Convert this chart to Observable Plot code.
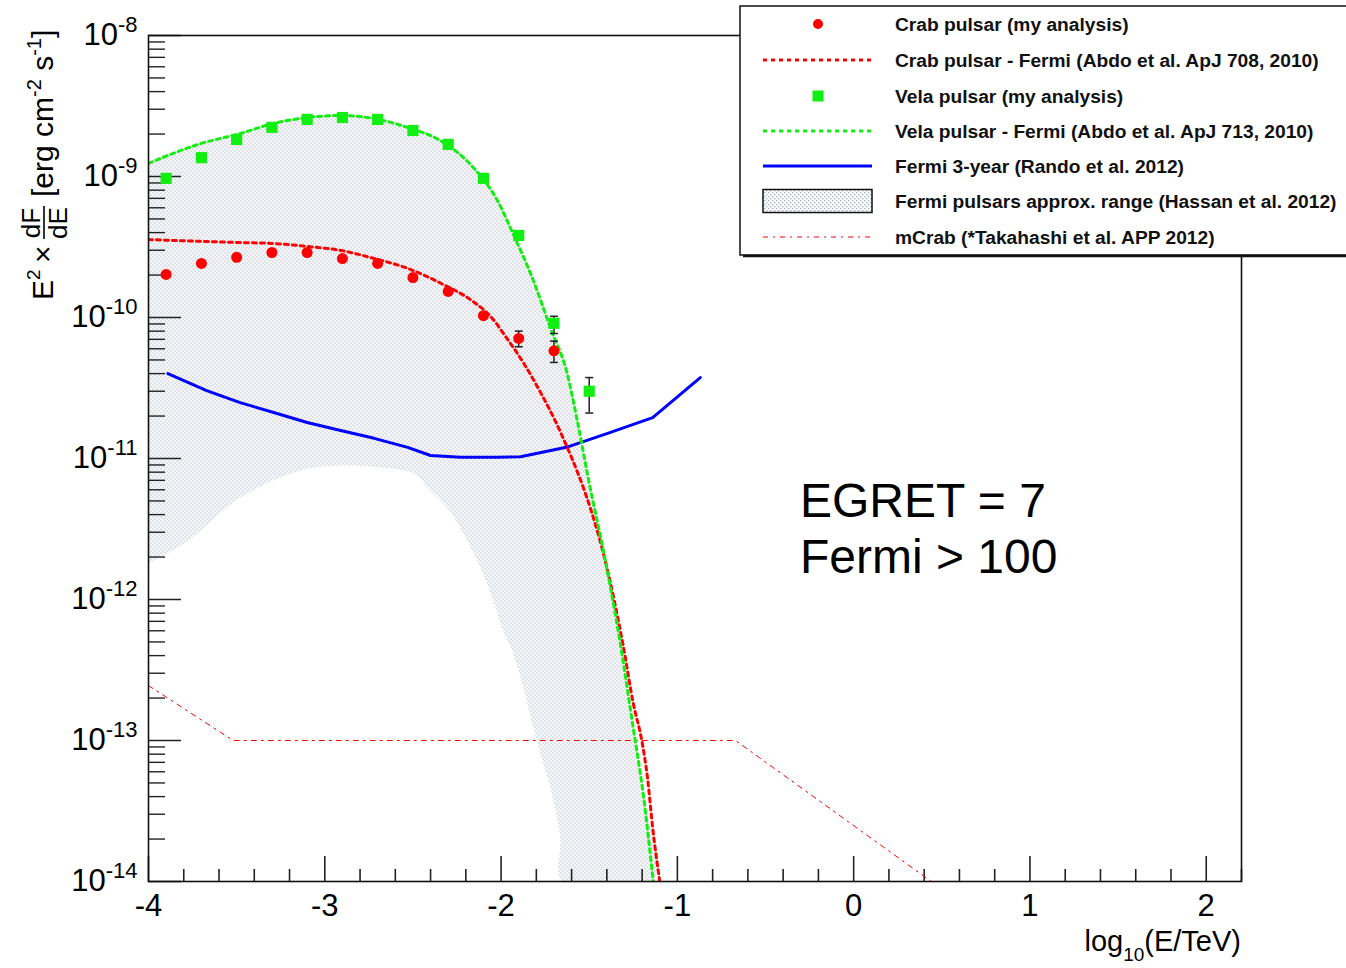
<!DOCTYPE html>
<html><head><meta charset="utf-8">
<script src="https://cdn.jsdelivr.net/npm/d3@7"></script>
<script src="https://cdn.jsdelivr.net/npm/@observablehq/plot@0.6"></script>
<style>
body{margin:0;background:#fff;}
#chart{position:relative;width:1346px;height:968px;overflow:hidden;}
</style></head><body>
<svg width="0" height="0" style="position:absolute"><defs>
<pattern id="dots" width="4" height="4" patternUnits="userSpaceOnUse">
<rect x="0" y="0" width="1.4" height="1.4" fill="#adb5c4"/>
<rect x="2" y="2" width="1.4" height="1.4" fill="#adb5c4"/>
</pattern></defs></svg>
<div id="chart"></div>
<script>
// ---------------- data (log10(E/TeV), E^2 dF/dE in erg cm^-2 s^-1) ----------------
const crabPointX = [-3.9,-3.7,-3.5,-3.3,-3.1,-2.9,-2.7,-2.5,-2.3,-2.1,-1.9,-1.7];
const crabPointY = [2.02e-10,2.42e-10,2.67e-10,2.89e-10,2.89e-10,2.62e-10,2.42e-10,1.92e-10,1.53e-10,1.03e-10,7.1e-11,5.8e-11];
const crabErrX = [-1.9,-1.7];
const crabErrLow = [6.2e-11,4.8e-11];
const crabErrHigh = [8.0e-11,6.8e-11];

const velaPointX = [-3.9,-3.7,-3.5,-3.3,-3.1,-2.9,-2.7,-2.5,-2.3,-2.1,-1.9,-1.7,-1.5];
const velaPointY = [9.7e-10,1.36e-9,1.83e-9,2.23e-9,2.54e-9,2.62e-9,2.54e-9,2.12e-9,1.69e-9,9.7e-10,3.82e-10,9.1e-11,3.0e-11];
const velaErrX = [-1.7,-1.5];
const velaErrLow = [7.7e-11,2.1e-11];
const velaErrHigh = [1.02e-10,3.75e-11];

const crabFermiX = [-4,-3.86,-3.48,-3.29,-3.10,-2.91,-2.72,-2.53,-2.35,-2.16,-2.06,-1.97,-1.87,-1.78,-1.68,-1.63,-1.57,-1.49,-1.41,-1.31,-1.25,-1.20,-1.17,-1.14,-1.10];
const crabFermiY = [3.57e-10,3.52e-10,3.40e-10,3.35e-10,3.19e-10,2.99e-10,2.62e-10,2.23e-10,1.77e-10,1.30e-10,1.02e-10,7.2e-11,4.7e-11,3.0e-11,1.71e-11,1.24e-11,8.2e-12,4.3e-12,1.9e-12,4.9e-13,1.83e-13,9.7e-14,5.5e-14,2.4e-14,1.0e-14];

const velaFermiX = [-4,-3.705,-3.478,-3.291,-3.099,-2.912,-2.724,-2.532,-2.345,-2.158,-2.022,-1.931,-1.817,-1.721,-1.625,-1.568,-1.506,-1.409,-1.324,-1.251,-1.194,-1.137];
const velaFermiY = [1.24e-9,1.71e-9,2.02e-9,2.38e-9,2.62e-9,2.71e-9,2.58e-9,2.23e-9,1.80e-9,1.16e-9,6.8e-10,3.9e-10,1.83e-10,8.5e-11,4.0e-11,1.86e-11,7.3e-12,1.9e-12,4.9e-13,1.24e-13,4.2e-14,1.0e-14];

const fermi3yrX = [-3.89,-3.67,-3.48,-3.29,-3.10,-2.91,-2.72,-2.53,-2.40,-2.23,-2.02,-1.89,-1.78,-1.63,-1.40,-1.14,-0.87];
const fermi3yrY = [4.0e-11,3.03e-11,2.49e-11,2.12e-11,1.80e-11,1.58e-11,1.39e-11,1.20e-11,1.05e-11,1.02e-11,1.02e-11,1.03e-11,1.10e-11,1.20e-11,1.50e-11,1.95e-11,3.75e-11];

// lower edge of the "Fermi pulsars approx. range" band (upper edge follows the Vela Fermi curve)
const bandLowerX = [-4.0,-3.773,-3.478,-3.138,-2.912,-2.685,-2.498,-2.401,-2.305,-2.214,-2.118,-2.044,-1.988,-1.931,-1.874,-1.817,-1.778,-1.721,-1.664,-1.653];
const bandLowerY = [1.8e-12,2.62e-12,5.28e-12,8.22e-12,8.91e-12,8.63e-12,7.83e-12,5.93e-12,4.49e-12,2.94e-12,1.69e-12,9.8e-13,6.0e-13,4.14e-13,2.38e-13,1.24e-13,8.1e-14,4.65e-14,2.05e-14,1.0e-14];

const mcrabX = [-4,-3.52,-0.67,0.44];
const mcrabY = [2.45e-13,1e-13,1e-13,1e-14];

const yTickValues = [1e-14,1e-13,1e-12,1e-11,1e-10,1e-9,1e-8];
const yTickExponents = [-14,-13,-12,-11,-10,-9,-8];
const xTickValues = [-4,-3,-2,-1,0,1,2];
const xTickLabels = ["-4","-3","-2","-1","0","1","2"];

const legendLabels = [
  "Crab pulsar (my analysis)",
  "Crab pulsar - Fermi (Abdo et al. ApJ 708, 2010)",
  "Vela pulsar (my analysis)",
  "Vela pulsar - Fermi (Abdo et al. ApJ 713, 2010)",
  "Fermi 3-year (Rando et al. 2012)",
  "Fermi pulsars approx. range (Hassan et al. 2012)",
  "mCrab (*Takahashi et al. APP 2012)"
];
const annotationLines = ["EGRET = 7", "Fermi > 100"];

// ---------------- build ----------------
const RED = "#ff0000", GREEN = "#11ee11", BLUE = "#0000ff";
const W = 1346, H = 968, mL = 148, mR = 105, mT = 35, mB = 87;
const innerW = W - mL - mR, innerH = H - mT - mB;
const rows = (xs, ys) => xs.map((x, i) => ({x, y: ys[i]}));
const errRows = (xs, lo, hi) => xs.map((x, i) => ({x, lo: lo[i], hi: hi[i]}));

const crabPts = rows(crabPointX, crabPointY);
const velaPts = rows(velaPointX, velaPointY);
const crabErr = errRows(crabErrX, crabErrLow, crabErrHigh);
const velaErr = errRows(velaErrX, velaErrLow, velaErrHigh);
const crabFermi = rows(crabFermiX, crabFermiY);
const velaFermi = rows(velaFermiX, velaFermiY);
const fermi3 = rows(fermi3yrX, fermi3yrY);
const mcrab = rows(mcrabX, mcrabY);
const band = velaFermi.concat(rows(bandLowerX, bandLowerY).reverse());

const minorY = [];
for (let e = -14; e < -8; e++) for (let k = 2; k <= 9; k++) minorY.push(k * Math.pow(10, e));
const minorX = [];
for (let i = -20; i <= 11; i++) if (i % 5 !== 0) minorX.push(i / 5);

const capSymbol = {draw(ctx) { ctx.moveTo(-4, 0); ctx.lineTo(4, 0); }};

const plot = Plot.plot({
  width: W, height: H,
  marginLeft: mL, marginRight: mR, marginTop: mT, marginBottom: mB,
  style: {fontFamily: "'Liberation Sans', Arial, Helvetica, sans-serif", background: "white"},
  x: {domain: [-4, 2.2]},
  y: {type: "log", domain: [1e-14, 1e-8]},
  marks: [
    Plot.line(band, {x: "x", y: "y", fill: "url(#dots)", stroke: "none", curve: "catmull-rom", clip: true}),
    Plot.tickY(yTickValues, {y: d => d, insetRight: innerW - 33, stroke: "#222", strokeWidth: 1.4}),
    Plot.tickY(minorY, {y: d => d, insetRight: innerW - 17, stroke: "#222", strokeWidth: 1.4}),
    Plot.tickX(xTickValues, {x: d => d, insetTop: innerH - 25, stroke: "#222", strokeWidth: 1.6}),
    Plot.tickX(minorX, {x: d => d, insetTop: innerH - 12, stroke: "#222", strokeWidth: 1.6}),
    Plot.line(mcrab, {x: "x", y: "y", stroke: RED, strokeWidth: 1, strokeDasharray: "5 5 2 5", clip: true}),
    Plot.line(fermi3, {x: "x", y: "y", stroke: BLUE, strokeWidth: 3, clip: true}),
    Plot.line(crabFermi, {x: "x", y: "y", stroke: RED, strokeWidth: 3, strokeDasharray: "4 4", curve: "monotone-x", clip: true}),
    Plot.line(velaFermi, {x: "x", y: "y", stroke: GREEN, strokeWidth: 3, strokeDasharray: "4 4", curve: "monotone-x", clip: true}),
    Plot.ruleX(crabErr, {x: "x", y1: "lo", y2: "hi", stroke: "#222", strokeWidth: 1.5}),
    Plot.ruleX(velaErr, {x: "x", y1: "lo", y2: "hi", stroke: "#222", strokeWidth: 1.5}),
    Plot.dot(crabErr, {x: "x", y: "lo", symbol: capSymbol, fill: "none", stroke: "#222", strokeWidth: 1.5}),
    Plot.dot(crabErr, {x: "x", y: "hi", symbol: capSymbol, fill: "none", stroke: "#222", strokeWidth: 1.5}),
    Plot.dot(velaErr, {x: "x", y: "lo", symbol: capSymbol, fill: "none", stroke: "#222", strokeWidth: 1.5}),
    Plot.dot(velaErr, {x: "x", y: "hi", symbol: capSymbol, fill: "none", stroke: "#222", strokeWidth: 1.5}),
    Plot.dot(crabPts, {x: "x", y: "y", r: 5.5, fill: RED, stroke: "none"}),
    Plot.dot(velaPts, {x: "x", y: "y", symbol: "square", r: 6.3, fill: GREEN, stroke: "none"}),
    Plot.frame({stroke: "#111", strokeWidth: 1.6}),
    Plot.axisY({ticks: yTickValues, tickSize: 0, tickPadding: 11, fontSize: 31, label: null,
      tickFormat: d => "10^" + yTickExponents[yTickValues.findIndex(v => Math.abs(v - d) / d < 1e-6)]}),
    Plot.axisX({ticks: xTickValues, tickSize: 0, tickPadding: 12, fontSize: 31, label: null,
      tickFormat: d => xTickLabels[xTickValues.indexOf(d)]})
  ]
});
document.getElementById("chart").appendChild(plot);

const svg = d3.select(plot);
// superscripts on y tick labels
svg.selectAll('g[aria-label="y-axis tick label"] text').each(function() {
  const t = this.textContent;
  const m = t.split("^");
  if (m.length !== 2) return;
  const s = d3.select(this);
  s.text(null);
  s.append("tspan").text(m[0]);
  s.append("tspan").attr("dy", -13).attr("font-size", 22).text(m[1]);
});

const font = "'Liberation Sans', Arial, Helvetica, sans-serif";
// x-axis title
const xt = svg.append("text").attr("x", 1241).attr("y", 951).attr("text-anchor", "end")
  .attr("font-family", font).attr("font-size", 29).attr("fill", "#000");
xt.append("tspan").text("log");
xt.append("tspan").attr("dy", 10).attr("font-size", 19).text("10");
xt.append("tspan").attr("dy", -10).text("(E/TeV)");

// y-axis title (rotated)
const yt = svg.append("g").attr("transform", "translate(53,300) rotate(-90)")
  .attr("font-family", font).attr("fill", "#000").attr("text-anchor", "start");
yt.append("text").attr("x", 0).attr("y", 0).attr("font-size", 30).text("E");
yt.append("text").attr("x", 20).attr("y", -13).attr("font-size", 19).text("2");
yt.append("text").attr("x", 37).attr("y", 0).attr("font-size", 30).text("\u00d7");
yt.append("text").attr("x", 77).attr("y", -13).attr("font-size", 26).attr("text-anchor", "middle").text("dF");
yt.append("line").attr("x1", 61).attr("x2", 94).attr("y1", -9).attr("y2", -9).attr("stroke", "#000").attr("stroke-width", 1.6);
yt.append("text").attr("x", 77).attr("y", 14).attr("font-size", 26).attr("text-anchor", "middle").text("dE");
const ybr = yt.append("text").attr("x", 103).attr("y", 0).attr("font-size", 30);
ybr.append("tspan").text("[erg cm");
ybr.append("tspan").attr("dy", -12).attr("font-size", 20).text("-2");
ybr.append("tspan").attr("dy", 12).text(" s");
ybr.append("tspan").attr("dy", -12).attr("font-size", 20).text("-1");
ybr.append("tspan").attr("dy", 12).text("]");

// annotation
annotationLines.forEach((t, i) => {
  svg.append("text").attr("x", 800).attr("y", 517 + i * 56).attr("font-family", font)
    .attr("text-anchor", "start").attr("font-size", 48).attr("fill", "#000").text(t);
});

// legend
const lg = svg.append("g").attr("font-family", font).attr("text-anchor", "start");
lg.append("rect").attr("x", 740).attr("y", 6).attr("width", 640).attr("height", 249)
  .attr("fill", "white").attr("stroke", "#111").attr("stroke-width", 1.5);
lg.append("line").attr("x1", 743).attr("x2", 1346).attr("y1", 256).attr("y2", 256).attr("stroke", "#111").attr("stroke-width", 2.5);
const rowY = [24, 60, 96, 131, 166, 201, 237];
const sx = 818, lx1 = 763, lx2 = 872;
lg.append("circle").attr("cx", sx).attr("cy", rowY[0]).attr("r", 5).attr("fill", RED);
lg.append("line").attr("x1", lx1).attr("x2", lx2).attr("y1", rowY[1]).attr("y2", rowY[1]).attr("stroke", RED).attr("stroke-width", 3).attr("stroke-dasharray", "4 4");
lg.append("rect").attr("x", sx - 5.5).attr("y", rowY[2] - 5.5).attr("width", 11).attr("height", 11).attr("fill", GREEN);
lg.append("line").attr("x1", lx1).attr("x2", lx2).attr("y1", rowY[3]).attr("y2", rowY[3]).attr("stroke", GREEN).attr("stroke-width", 3).attr("stroke-dasharray", "4 4");
lg.append("line").attr("x1", lx1).attr("x2", lx2).attr("y1", rowY[4]).attr("y2", rowY[4]).attr("stroke", BLUE).attr("stroke-width", 3);
lg.append("rect").attr("x", lx1).attr("y", rowY[5] - 11.5).attr("width", lx2 - lx1).attr("height", 23).attr("fill", "url(#dots)").attr("stroke", "#111").attr("stroke-width", 1.5);
lg.append("line").attr("x1", lx1).attr("x2", lx2).attr("y1", rowY[6]).attr("y2", rowY[6]).attr("stroke", RED).attr("stroke-width", 1).attr("stroke-dasharray", "5 5 2 5");
legendLabels.forEach((t, i) => {
  lg.append("text").attr("x", 895).attr("y", rowY[i]).attr("dy", "0.35em").attr("font-size", 19.2)
    .attr("font-weight", "bold").attr("fill", "#111").text(t);
});
</script>
</body></html>
